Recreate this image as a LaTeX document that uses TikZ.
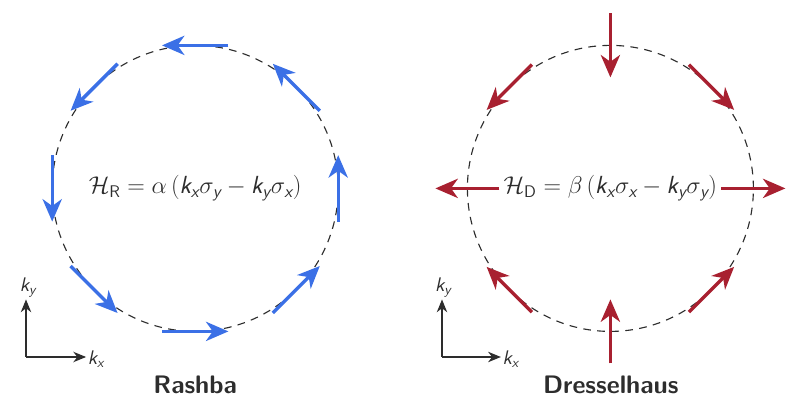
\documentclass[tikz,border=0pt]{standalone}
\usepackage{amsmath,amssymb}
\usepackage{xcolor}
\usepackage{tikz}
\usetikzlibrary{arrows.meta,calc,positioning}

\newcommand{\sfi}[1]{\textsf{\itshape #1}}
\newcommand{\kk}[1]{\sfi{k}_{\sfi{#1}}}

\definecolor{rashbablue}{RGB}{59,112,230}
\definecolor{dressred}{RGB}{168,32,48}
\definecolor{inkgray}{RGB}{45,45,45}

\begin{document}
\begin{tikzpicture}[
    fermi/.style={draw=inkgray, line width=0.8pt, dash pattern=on 5.5pt off 4.5pt},
    spinR/.style={rashbablue, line width=2.4pt, -{Stealth[length=5.6mm,width=4.8mm,inset=1.7mm]}},
    spinD/.style={dressred, line width=2.4pt, -{Stealth[length=5.6mm,width=4.8mm,inset=1.7mm]}},
    axis/.style={inkgray, line width=0.9pt, -{Stealth[length=3.2mm,width=2.6mm,inset=1mm]}},
    ham/.style={text=inkgray, font=\fontsize{17.6}{20}\selectfont},
    title/.style={text=inkgray, font=\fontsize{18}{21}\selectfont\sffamily\bfseries},
    klabel/.style={text=inkgray, font=\fontsize{14}{16}\selectfont, inner sep=1pt}
  ]
  \useasboundingbox (0,0) rectangle (20,10.25);

  % Rashba
  \coordinate (cR) at (4.88,5.54);
  \draw[fermi] (cR) circle (3.575);
  \foreach \a in {0,45,...,315}
    \draw[spinR] ($(cR)+(\a:3.575)+(\a+90:-0.83)$) -- ++(\a+90:1.66);
  \node[ham] (hamR) at (cR) {$\mathcal{H}_{\mathsf{R}} = \alpha\,(\kk{x}\sigma_{\sfi{y}} - \kk{y}\sigma_{\sfi{x}})$};
  \node[title] (rashba) at (4.88,0.62) {Rashba};

  \coordinate (oR) at (0.65,1.325);
  \node[klabel] (kyR) at (0.7,3.05) {$\kk{y}$};
  \node[klabel] (kxR) at (2.4,1.27) {$\kk{x}$};
  \draw[axis] (oR) -- (oR |- kyR.south);
  \draw[axis] (oR) -- (oR -| kxR.west);

  % Dresselhaus
  \coordinate (cD) at (15.26,5.54);
  \draw[fermi] (cD) circle (3.575);
  \foreach \a in {0,45,...,315}
    \draw[spinD] ($(cD)+(\a:3.575)+(-\a:-0.8)$) -- ++(-\a:1.6);
  \node[ham] (hamD) at (cD) {$\mathcal{H}_{\mathsf{D}} = \beta\,(\kk{x}\sigma_{\sfi{x}} - \kk{y}\sigma_{\sfi{y}})$};
  \node[title] (dressel) at (15.27,0.62) {Dresselhaus};

  \coordinate (oD) at (11.05,1.325);
  \node[klabel] (kyD) at (11.08,3.05) {$\kk{y}$};
  \node[klabel] (kxD) at (12.77,1.27) {$\kk{x}$};
  \draw[axis] (oD) -- (oD |- kyD.south);
  \draw[axis] (oD) -- (oD -| kxD.west);
\end{tikzpicture}
\end{document}
